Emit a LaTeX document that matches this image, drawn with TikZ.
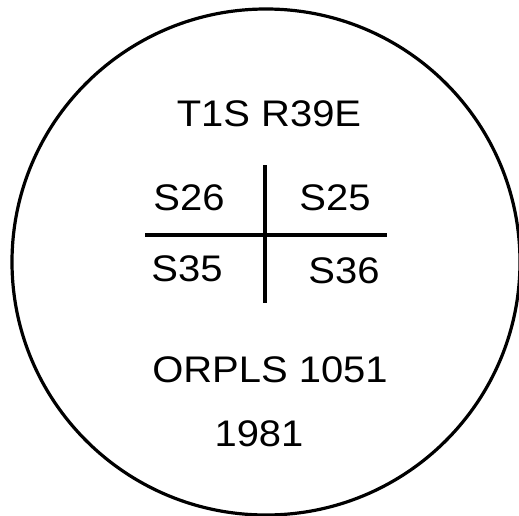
\documentclass[tikz,border=0pt]{standalone}
\usepackage{fontspec}
\setmainfont[FakeStretch=1.08]{Liberation Sans}
\usetikzlibrary{positioning}

\begin{document}
\begin{tikzpicture}[
 x=1pt, y=-1pt, font=\fontsize{37}{44}\selectfont,
 lbl/.style={anchor=base, inner sep=0pt},
 rim/.style={draw, line width=3.2pt},
 rule/.style={draw, line width=3.6pt}]
\useasboundingbox (0,0) rectangle (519,516);
\path[rim] (266,262) ellipse [x radius=254, y radius=253];
% township and range
\node[lbl] (twp) at (269,127) {T1S R39E};
% section corner
\coordinate (vtop) at (265,165);
\coordinate (vbot) at (265,303);
\coordinate (hleft) at (145,235);
\coordinate (hright) at (387,235);
\path[rule] (vtop) -- (vbot);
\path[rule] (hleft) -- (hright);
\node[lbl] (s26) at (189,210) {S26};
\node[lbl] (s25) at (335,210) {S25};
\node[lbl] (s35) at (187,281) {S35};
\node[lbl] (s36) at (344,283) {S36};
% survey and year
\node[lbl] (orpls) at (270,382) {ORPLS 1051};
\node[lbl] (year) at (259,446) {1981};
\end{tikzpicture}
\end{document}
